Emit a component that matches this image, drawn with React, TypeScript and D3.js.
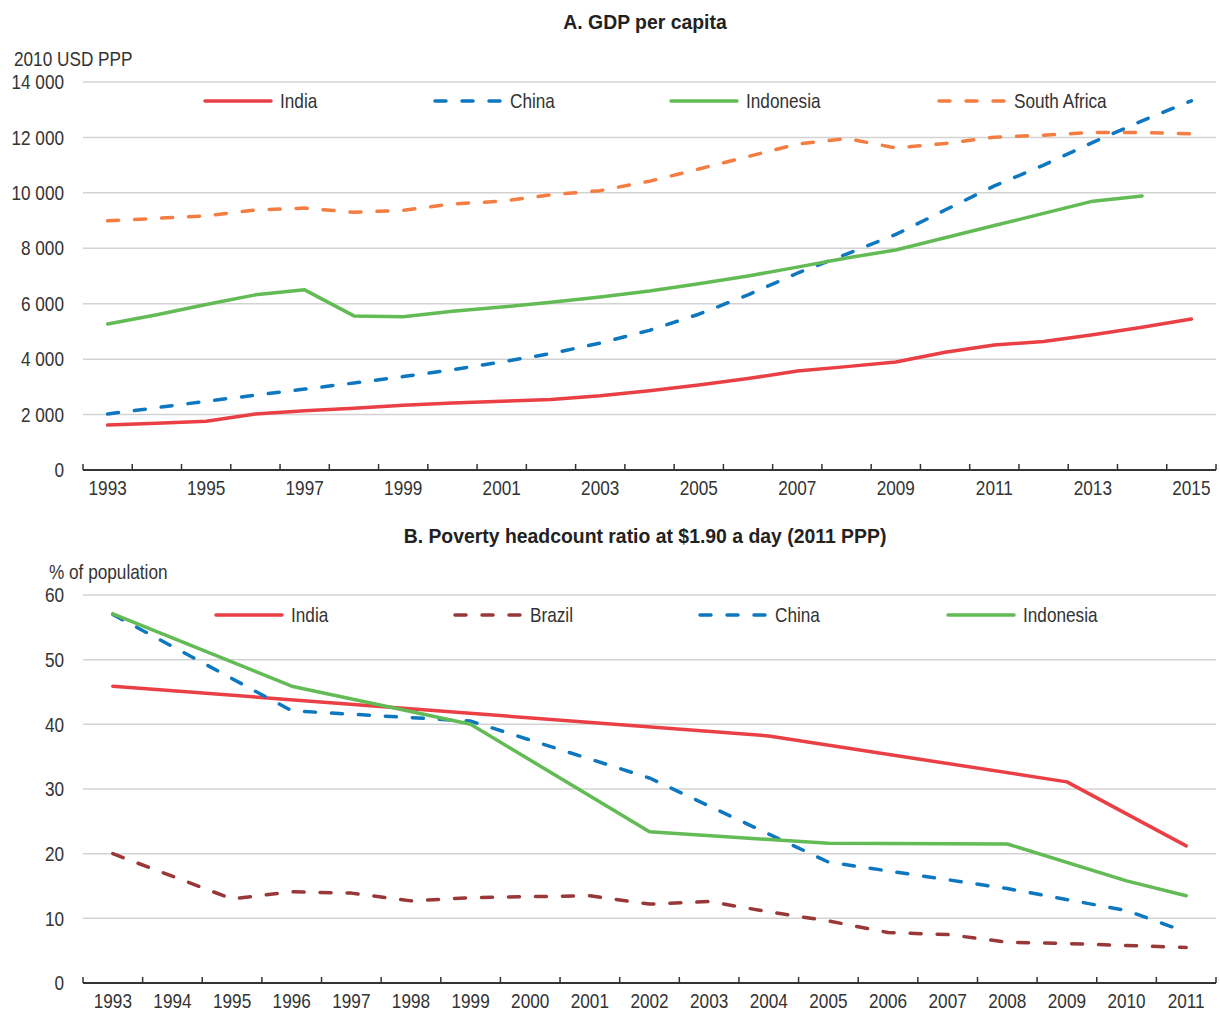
import { useMemo } from 'react';
import * as d3 from 'd3';

const W = 1220;
const H = 1011;
const FONT = '"Liberation Sans", Arial, sans-serif';
const TEXT = '#333333';
const GRID = '#d3d3d3';
const SX = 0.86; // horizontal squeeze to mimic the condensed face of the original

// Panel A: GDP per capita, 2010 USD PPP
const yearsA = d3.range(1993, 2016);
const indiaGdp = [1620, 1690, 1760, 2020, 2140, 2230, 2340, 2420, 2480, 2540, 2680, 2860, 3070, 3300, 3570, 3730, 3900, 4250, 4510, 4640, 4880, 5150, 5450];
const chinaGdp = [2020, 2250, 2480, 2700, 2920, 3140, 3370, 3620, 3900, 4200, 4580, 5040, 5620, 6320, 7100, 7790, 8500, 9380, 10250, 11000, 11820, 12600, 13320];
const indonesiaGdp = [5270, 5600, 5970, 6320, 6500, 5560, 5530, 5730, 5880, 6050, 6240, 6460, 6720, 7000, 7320, 7650, 7940, 8380, 8820, 9260, 9700, 9890];
const southAfricaGdp = [8990, 9080, 9170, 9380, 9450, 9300, 9370, 9600, 9700, 9930, 10080, 10420, 10860, 11310, 11760, 11960, 11620, 11780, 12010, 12080, 12180, 12180, 12130];
const ticksA = [0, 2000, 4000, 6000, 8000, 10000, 12000, 14000];

// Panel B: poverty headcount at $1.90 a day, % of population (survey years only)
const yearsB = d3.range(1993, 2012);
const indiaPovYears = [1993, 2004, 2009, 2011];
const indiaPov = [45.9, 38.2, 31.1, 21.2];
const brazilPovYears = [1993, 1995, 1996, 1997, 1998, 1999, 2001, 2002, 2003, 2004, 2005, 2006, 2007, 2008, 2009, 2011];
const brazilPov = [20.0, 13.0, 14.1, 13.9, 12.7, 13.2, 13.5, 12.2, 12.6, 11.0, 9.6, 7.8, 7.5, 6.3, 6.1, 5.5];
const chinaPovYears = [1993, 1996, 1999, 2002, 2005, 2008, 2010, 2011];
const chinaPov = [57.0, 42.1, 40.5, 31.7, 18.7, 14.6, 11.2, 7.9];
const indonesiaPovYears = [1993, 1996, 1999, 2002, 2005, 2008, 2010, 2011];
const indonesiaPov = [57.1, 45.9, 40.0, 23.4, 21.6, 21.5, 15.8, 13.5];
const ticksB = [0, 10, 20, 30, 40, 50, 60];

const RED = '#ea3f45';
const BLUE = '#0d77c0';
const GREEN = '#63bb55';
const ORANGE = '#f47d42';
const BROWN = '#993838';
const DASH = '11 16';

type Series = { name: string; color: string; dashed: boolean; years: number[]; values: number[] };

const seriesA: Series[] = [
  { name: 'India', color: RED, dashed: false, years: yearsA, values: indiaGdp },
  { name: 'China', color: BLUE, dashed: true, years: yearsA, values: chinaGdp },
  { name: 'Indonesia', color: GREEN, dashed: false, years: yearsA.slice(0, indonesiaGdp.length), values: indonesiaGdp },
  { name: 'South Africa', color: ORANGE, dashed: true, years: yearsA, values: southAfricaGdp },
];
const legendAX = [203, 433, 669, 937];

const seriesB: Series[] = [
  { name: 'India', color: RED, dashed: false, years: indiaPovYears, values: indiaPov },
  { name: 'Brazil', color: BROWN, dashed: true, years: brazilPovYears, values: brazilPov },
  { name: 'China', color: BLUE, dashed: true, years: chinaPovYears, values: chinaPov },
  { name: 'Indonesia', color: GREEN, dashed: false, years: indonesiaPovYears, values: indonesiaPov },
];
const legendBX = [214, 453, 698, 946];

const fmtThousands = (v: number) => (v >= 1000 ? d3.format(',')(v).replace(',', ' ') : String(v));

// condensed text label
function T({ x, y, anchor = 'start', dy, children }: { x: number; y: number; anchor?: string; dy?: string; children: any }) {
  return (
    <text
      transform={`translate(${x},${y}) scale(${SX},1)`}
      dy={dy}
      textAnchor={anchor}
      fontSize={20}
      fill={TEXT}
    >
      {children}
    </text>
  );
}

type PanelProps = {
  title: string;
  titleY: number;
  unit: string;
  unitX: number;
  unitY: number;
  years: number[];
  labelEvery: number;
  yMax: number;
  ticks: number[];
  top: number;
  bottom: number;
  series: Series[];
  legendX: number[];
  legendY: number;
  fmt: (v: number) => string;
};

function Panel(p: PanelProps) {
  const left = 83;
  const right = 1216;
  const x = useMemo(
    () => d3.scaleBand<number>().domain(p.years).range([left, right]).padding(0),
    [p.years]
  );
  const y = useMemo(() => d3.scaleLinear().domain([0, p.yMax]).range([p.bottom, p.top]), [p.yMax, p.top, p.bottom]);
  const cx = (yr: number) => (x(yr) as number) + x.bandwidth() / 2;
  const line = d3
    .line<[number, number]>()
    .x((d) => cx(d[0]))
    .y((d) => y(d[1]));
  const boundaries = p.years.map((yr) => x(yr) as number).concat([right]);

  return (
    <g fontFamily={FONT}>
      <text
        transform={`translate(645,${p.titleY}) scale(0.97,1)`}
        textAnchor="middle"
        fontSize={20}
        fontWeight="bold"
        fill="#222"
      >
        {p.title}
      </text>
      <T x={p.unitX} y={p.unitY}>
        {p.unit}
      </T>
      {p.ticks.map((t) => (
        <g key={t}>
          {t > 0 && <line x1={left} x2={right} y1={y(t)} y2={y(t)} stroke={GRID} strokeWidth={1.5} />}
          <T x={64} y={y(t)} dy="0.36em" anchor="end">
            {p.fmt(t)}
          </T>
        </g>
      ))}
      <line x1={left} x2={right} y1={p.bottom} y2={p.bottom} stroke="#333" strokeWidth={2} />
      {boundaries.map((bx, i) => (
        <line key={i} x1={bx} x2={bx} y1={p.bottom} y2={p.bottom - 6} stroke="#333" strokeWidth={1.5} />
      ))}
      {p.years
        .filter((_, i) => i % p.labelEvery === 0)
        .map((yr) => (
          <T key={yr} x={cx(yr)} y={p.bottom + 25} anchor="middle">
            {yr}
          </T>
        ))}
      {p.series.map((s) => (
        <path
          key={s.name}
          d={line(s.values.map((v, i) => [s.years[i], v] as [number, number])) || ''}
          fill="none"
          stroke={s.color}
          strokeWidth={3.5}
          strokeDasharray={s.dashed ? DASH : undefined}
          strokeLinecap="round"
          strokeLinejoin="round"
        />
      ))}
      {p.series.map((s, i) => (
        <g key={s.name} transform={`translate(${p.legendX[i]},${p.legendY})`}>
          <line
            x1={2}
            x2={68}
            y1={0}
            y2={0}
            stroke={s.color}
            strokeWidth={3.5}
            strokeDasharray={s.dashed ? DASH : undefined}
            strokeLinecap="round"
          />
          <T x={77} y={0} dy="0.36em">
            {s.name}
          </T>
        </g>
      ))}
    </g>
  );
}

export default function App() {
  return (
    <svg
      width={W}
      height={H}
      viewBox={`0 0 ${W} ${H}`}
      style={{ position: 'absolute', left: 0, top: 0, background: '#fff' }}
    >
      <rect width={W} height={H} fill="#fff" />
      <Panel
        title="A. GDP per capita"
        titleY={29}
        unit="2010 USD PPP"
        unitX={14}
        unitY={66}
        years={yearsA}
        labelEvery={2}
        yMax={14000}
        ticks={ticksA}
        top={82}
        bottom={470}
        series={seriesA}
        legendX={legendAX}
        legendY={101}
        fmt={fmtThousands}
      />
      <Panel
        title="B. Poverty headcount ratio at $1.90 a day (2011 PPP)"
        titleY={543}
        unit="% of population"
        unitX={49}
        unitY={579}
        years={yearsB}
        labelEvery={1}
        yMax={60}
        ticks={ticksB}
        top={595}
        bottom={983}
        series={seriesB}
        legendX={legendBX}
        legendY={615}
        fmt={(v) => String(v)}
      />
    </svg>
  );
}
